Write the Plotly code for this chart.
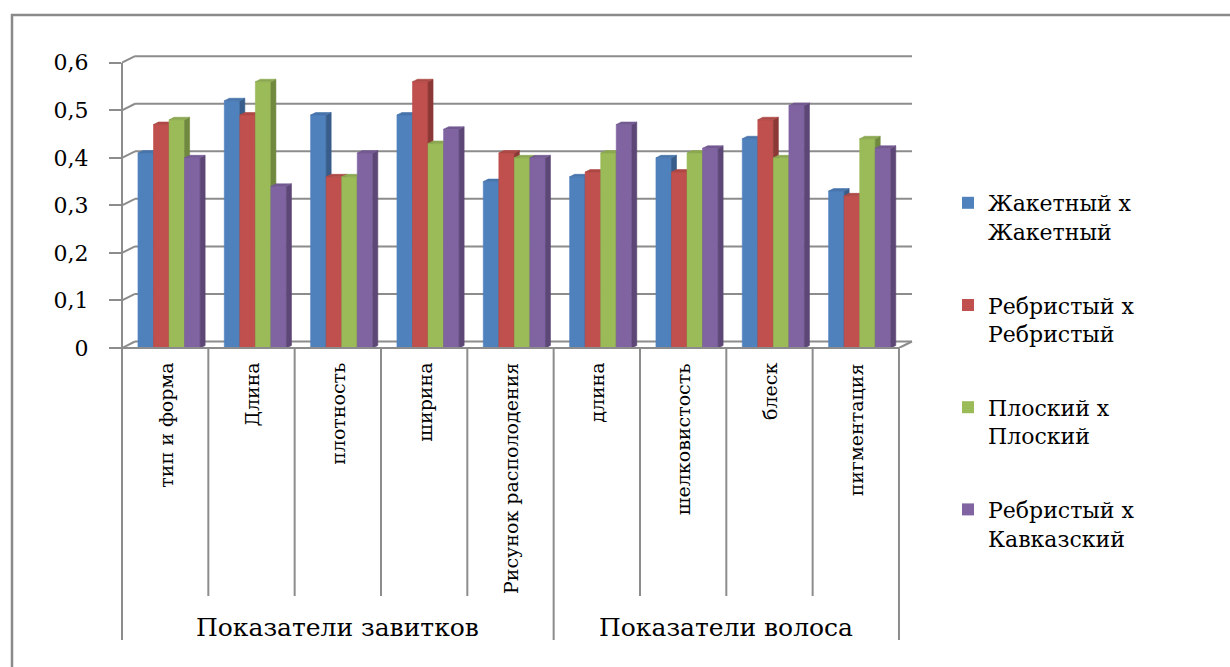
import plotly.graph_objects as go

# ---- data -------------------------------------------------------------
categories = ["тип и форма", "Длина", "плотность", "ширина", "Рисунок располодения",
              "длина", "шелковистость", "блеск", "пигментация"]
group_names = ["Показатели завитков", "Показатели волоса"]
group_sizes = [5, 4]

series_names = ["Жакетный х<br>Жакетный", "Ребристый х<br>Ребристый",
                "Плоский х<br>Плоский", "Ребристый х<br>Кавказский"]
zhaketny = [0.41, 0.52, 0.49, 0.49, 0.35, 0.36, 0.40, 0.44, 0.33]
rebristy = [0.47, 0.49, 0.36, 0.56, 0.41, 0.37, 0.37, 0.48, 0.32]
ploskiy = [0.48, 0.56, 0.36, 0.43, 0.40, 0.41, 0.41, 0.40, 0.44]
reb_kavkaz = [0.40, 0.34, 0.41, 0.46, 0.40, 0.47, 0.42, 0.51, 0.42]
series_values = [zhaketny, rebristy, ploskiy, reb_kavkaz]

y_ticks = [0, 0.1, 0.2, 0.3, 0.4, 0.5, 0.6]
y_ticktext = ["0", "0,1", "0,2", "0,3", "0,4", "0,5", "0,6"]

# ---- styling ------------------------------------------------------------
front_colors = ["#4F81BD", "#C0504D", "#9BBB59", "#8064A2"]
side_colors = ["#385D8A", "#8C3836", "#71893F", "#5C4776"]
top_colors = ["#4774AB", "#AD4845", "#8BA850", "#735A92"]
grid_color = "#8C8C8C"
font_family = "DejaVu Serif"

W, H = 1230, 667
PL, PR, PT, PB = 122, 915, 54, 348       # plot area in pixels
cat_px = 86.33                            # pixels per category
val_px = 475.5                            # pixels per unit of value

x_min = -0.5
x_max = x_min + (PR - PL) / cat_px
y_max = (PB - PT) / val_px

bar_w = 0.18                  # width of one bar (category units)
cluster_shift = 0.045         # cluster offset to the right
bar_dx = 5 / cat_px           # bar depth, horizontal
bar_dy = 2.5 / val_px         # bar depth, vertical
wall_dx = 13 / cat_px         # wall depth, horizontal
wall_dy = 6.5 / val_px        # wall depth, vertical


def paper_x(px):
    return (px - PL) / (PR - PL)


def paper_y(py):
    return (PB - py) / (PB - PT)


def data_to_paper_x(x):
    return (x - x_min) / (x_max - x_min)


n_cat = len(categories)
n_ser = len(series_values)

fig = go.Figure()

# ---- 3D-looking bars: front, side and top faces per series -------------
for s, vals in enumerate(series_values):
    fx, fy, sx, sy, tx, ty = [], [], [], [], [], []
    for i, v in enumerate(vals):
        xl = i + cluster_shift + (s - n_ser / 2) * bar_w
        xr = xl + bar_w
        fx += [xl, xr, xr, xl, xl, None]
        fy += [0, 0, v, v, 0, None]
        sx += [xr, xr + bar_dx, xr + bar_dx, xr, xr, None]
        sy += [0, bar_dy, v + bar_dy, v, 0, None]
        tx += [xl, xr, xr + bar_dx, xl + bar_dx, xl, None]
        ty += [v, v, v + bar_dy, v + bar_dy, v, None]
    for xs, ys, col in ((fx, fy, front_colors[s]), (sx, sy, side_colors[s]),
                        (tx, ty, top_colors[s])):
        fig.add_trace(go.Scatter(
            x=xs, y=ys, mode="lines", fill="toself", fillcolor=col,
            line=dict(color=col, width=0.6), hoverinfo="skip",
            showlegend=False))

# legend entries
for s, name in enumerate(series_names):
    fig.add_trace(go.Bar(x=[None], y=[None], name=name,
                         marker=dict(color=front_colors[s], line=dict(width=0)),
                         legendgroup=f"g{s}", showlegend=True))

shapes = []
line_style = dict(color=grid_color, width=2)

# outer chart border
shapes.append(dict(type="rect", xref="paper", yref="paper",
                   x0=paper_x(12), x1=paper_x(W + 20),
                   y0=paper_y(15), y1=paper_y(H + 20),
                   line=dict(color="#8A8A8A", width=2.5), layer="below"))

# back-wall gridlines with their short connectors to the front axis
for v in y_ticks:
    shapes.append(dict(type="line", xref="x", yref="y",
                       x0=x_min, y0=v, x1=x_min + wall_dx, y1=v + wall_dy,
                       line=line_style, layer="below"))
    shapes.append(dict(type="line", xref="x", yref="y",
                       x0=x_min + wall_dx, y0=v + wall_dy,
                       x1=n_cat - 0.5 + wall_dx, y1=v + wall_dy,
                       line=line_style, layer="below"))

# floor: front edge and right edge
shapes.append(dict(type="line", xref="paper", yref="paper",
                   x0=0, y0=0, x1=data_to_paper_x(n_cat - 0.5), y1=0,
                   line=line_style))
shapes.append(dict(type="line", xref="x", yref="y",
                   x0=n_cat - 0.5, y0=0, x1=n_cat - 0.5 + wall_dx, y1=wall_dy,
                   line=line_style))

# front value axis line
shapes.append(dict(type="line", xref="paper", yref="paper",
                   x0=0, y0=0, x1=0, y1=paper_y(PB - 0.6 * val_px),
                   line=line_style))

# category dividers (short) and group dividers (long)
group_edges = [0]
for g in group_sizes:
    group_edges.append(group_edges[-1] + g)
for k in range(n_cat + 1):
    long_line = k in group_edges
    shapes.append(dict(type="line", xref="paper", yref="paper",
                       x0=data_to_paper_x(k - 0.5), x1=data_to_paper_x(k - 0.5),
                       y0=0, y1=paper_y(640 if long_line else 596),
                       line=line_style))

annotations = []
# rotated category labels
for i, name in enumerate(categories):
    annotations.append(dict(x=i, y=paper_y(361), xref="x", yref="paper",
                            text=name, textangle=-90, showarrow=False,
                            xanchor="center", yanchor="top",
                            font=dict(family=font_family, size=19, color="black")))
# group labels
for g, name in enumerate(group_names):
    centre = (group_edges[g] + group_edges[g + 1] - 1) / 2
    annotations.append(dict(x=centre, y=paper_y(627), xref="x", yref="paper",
                            text=name, showarrow=False,
                            xanchor="center", yanchor="middle",
                            font=dict(family=font_family, size=25, color="black")))

fig.update_layout(
    width=W, height=H,
    margin=dict(l=PL, r=W - PR, t=PT, b=H - PB),
    paper_bgcolor="white", plot_bgcolor="white",
    barmode="overlay",
    showlegend=True,
    font=dict(family=font_family, color="black"),
    legend=dict(
        x=948 / W, y=1 - 182 / H, xref="container", yref="container",
        xanchor="left", yanchor="top",
        traceorder="grouped", tracegroupgap=42, valign="top",
        maxheight=460,
        font=dict(family=font_family, size=22, color="black"),
        bgcolor="rgba(0,0,0,0)",
    ),
    xaxis=dict(range=[x_min, x_max], showgrid=False, zeroline=False,
               showline=False, showticklabels=False, ticks="", fixedrange=True),
    yaxis=dict(range=[0, y_max], showgrid=False, zeroline=False, showline=False,
               tickvals=y_ticks, ticktext=y_ticktext, ticks="outside",
               ticklen=12, tickwidth=2, tickcolor=grid_color,
               ticklabelstandoff=16,
               tickfont=dict(family=font_family, size=22, color="black"),
               fixedrange=True),
    shapes=shapes,
    annotations=annotations,
)

fig.write_html("out.html")
